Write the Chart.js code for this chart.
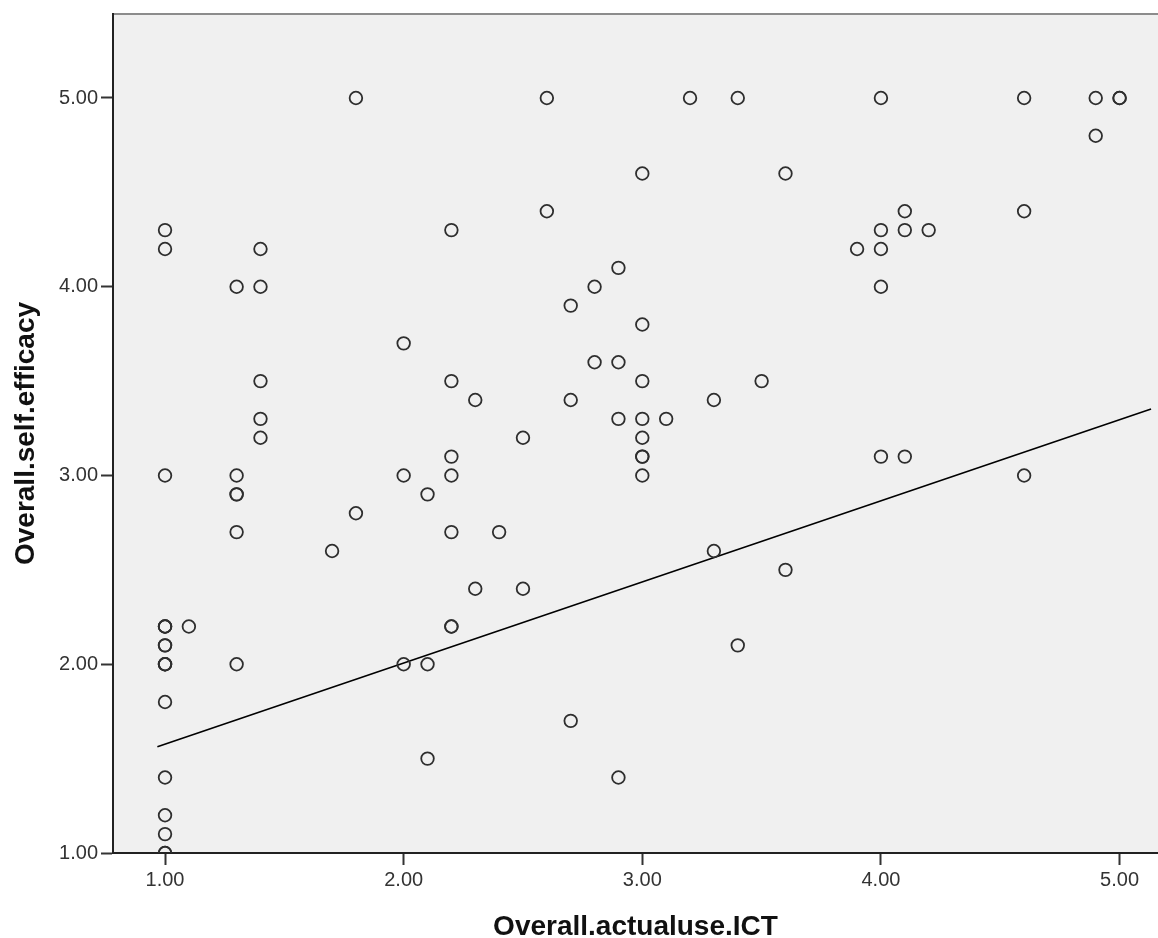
<!DOCTYPE html>
<html><head><meta charset="utf-8">
<script src="https://cdn.jsdelivr.net/npm/chart.js@4/dist/chart.umd.min.js"></script>
<style>html,body{margin:0;padding:0;background:#fff;overflow:hidden}#wrap{position:relative;width:1158px;height:938px}</style>
</head><body><div id="wrap"><canvas id="c" width="1158" height="938"></canvas></div>
<script>
const xTitle = 'Overall.actualuse.ICT';
const yTitle = 'Overall.self.efficacy';
const xTicks = [1, 2, 3, 4, 5];
const yTicks = [1, 2, 3, 4, 5];
const xRange = [0.782, 5.161];
const yRange = [1.0, 5.445];

const actualUse = [
  1.0,1.0,1.0,1.0,1.0,1.0,1.0,1.0,1.0,1.0,1.0,1.0,1.0,1.0,1.0,1.0,1.0,
  1.1,
  1.3,1.3,1.3,1.3,1.3,1.3,
  1.4,1.4,1.4,1.4,1.4,
  1.7,
  1.8,1.8,
  2.0,2.0,2.0,
  2.1,2.1,2.1,
  2.2,2.2,2.2,2.2,2.2,2.2,2.2,
  2.3,2.3,
  2.4,
  2.5,2.5,
  2.6,2.6,
  2.7,2.7,2.7,
  2.8,2.8,
  2.9,2.9,2.9,2.9,
  3.0,3.0,3.0,3.0,3.0,3.0,3.0,3.0,
  3.1,
  3.2,
  3.3,3.3,
  3.4,3.4,
  3.5,
  3.6,3.6,
  3.9,
  4.0,4.0,4.0,4.0,4.0,
  4.1,4.1,4.1,
  4.2,
  4.6,4.6,4.6,
  4.9,4.9,
  5.0,5.0
];
const selfEfficacy = [
  4.3,4.2,3.0,2.2,2.2,2.2,2.1,2.1,2.0,2.0,2.0,1.8,1.4,1.2,1.1,1.0,1.0,
  2.2,
  4.0,3.0,2.9,2.9,2.7,2.0,
  4.2,4.0,3.5,3.3,3.2,
  2.6,
  5.0,2.8,
  3.7,3.0,2.0,
  2.9,2.0,1.5,
  4.3,3.5,3.1,3.0,2.7,2.2,2.2,
  3.4,2.4,
  2.7,
  3.2,2.4,
  5.0,4.4,
  3.9,3.4,1.7,
  4.0,3.6,
  4.1,3.6,3.3,1.4,
  4.6,3.8,3.5,3.3,3.2,3.1,3.1,3.0,
  3.3,
  5.0,
  3.4,2.6,
  5.0,2.1,
  3.5,
  4.6,2.5,
  4.2,
  5.0,4.3,4.2,4.0,3.1,
  4.4,4.3,3.1,
  4.3,
  5.0,4.4,3.0,
  5.0,4.8,
  5.0,5.0
];
const fitX = [0.968, 5.132];
const fitY = [1.563, 3.352];

const FONT = "'Liberation Sans', Arial, sans-serif";

const bgPlugin = {
  id: 'bg',
  beforeDraw(chart) {
    const { ctx, chartArea: a } = chart;
    ctx.save();
    ctx.fillStyle = '#f0f0f0';
    ctx.fillRect(a.left, a.top, a.right - a.left, a.bottom - a.top);
    ctx.strokeStyle = '#8c8c8c';
    ctx.lineWidth = 2;
    ctx.beginPath();
    ctx.moveTo(a.left, a.top);
    ctx.lineTo(a.right, a.top);
    ctx.stroke();
    ctx.restore();
  }
};

new Chart(document.getElementById('c'), {
  type: 'scatter',
  data: {
    datasets: [
      {
        label: 'points',
        data: actualUse.map((x, i) => ({ x: x, y: selfEfficacy[i] })),
        pointStyle: 'circle',
        pointRadius: 6.3,
        pointBorderWidth: 1.8,
        pointBorderColor: '#2e2e2e',
        pointBackgroundColor: 'rgba(0,0,0,0)',
        clip: 0
      },
      {
        type: 'line',
        label: 'fit',
        data: fitX.map((x, i) => ({ x: x, y: fitY[i] })),
        borderColor: '#000',
        borderWidth: 1.6,
        pointRadius: 0,
        fill: false,
        showLine: true
      }
    ]
  },
  options: {
    responsive: false,
    animation: false,
    devicePixelRatio: 1,
    layout: { autoPadding: false, padding: { top: 14, right: 0, left: 0, bottom: 0 } },
    plugins: { legend: { display: false }, tooltip: { enabled: false } },
    scales: {
      x: {
        type: 'linear',
        position: 'bottom',
        min: xRange[0],
        max: xRange[1],
        afterBuildTicks: s => { s.ticks = xTicks.map(v => ({ value: v })); },
        afterFit: s => { s.height = 85; s.paddingLeft = 0; s.paddingRight = 0; },
        ticks: {
          callback: v => Number(v).toFixed(2),
          font: { family: FONT, size: 20 },
          color: '#333',
          padding: 3,
          maxRotation: 0,
          autoSkip: false
        },
        grid: { drawOnChartArea: false, drawTicks: true, tickLength: 12, tickColor: '#333', tickWidth: 2 },
        border: { display: true, color: '#222', width: 2 },
        title: {
          display: true,
          text: xTitle,
          color: '#111',
          font: { family: FONT, size: 28, weight: 'bold', lineHeight: 0.8 },
          padding: { top: 0, bottom: 0 }
        }
      },
      y: {
        type: 'linear',
        min: yRange[0],
        max: yRange[1],
        afterBuildTicks: s => { s.ticks = yTicks.map(v => ({ value: v })); },
        afterFit: s => { s.width = 113; s.paddingTop = 0; s.paddingBottom = 0; },
        ticks: {
          callback: v => Number(v).toFixed(2),
          font: { family: FONT, size: 20 },
          color: '#333',
          padding: 3,
          autoSkip: false
        },
        grid: { drawOnChartArea: false, drawTicks: true, tickLength: 12, tickColor: '#333', tickWidth: 2 },
        border: { display: true, color: '#222', width: 2 },
        title: {
          display: true,
          text: yTitle,
          color: '#111',
          font: { family: FONT, size: 28, weight: 'bold', lineHeight: 1.2 },
          padding: { top: 9, bottom: 0 }
        }
      }
    }
  },
  plugins: [bgPlugin]
});
</script>
</body></html>
